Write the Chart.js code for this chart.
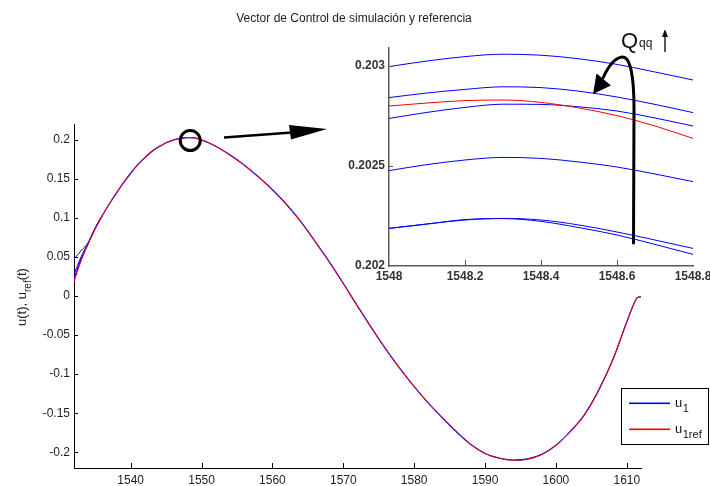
<!DOCTYPE html>
<html>
<head>
<meta charset="utf-8">
<script src="https://cdn.jsdelivr.net/npm/chart.js@4.4.0/dist/chart.umd.min.js"></script>
<style>
  html, body { margin: 0; padding: 0; background: #fff; overflow: hidden; }
  #wrap { position: relative; width: 710px; height: 486px; overflow: hidden; }
  #main { position: absolute; left: 0; top: 0; }
  #zoom { position: absolute; left: 330px; top: 30px; }
</style>
</head>
<body>
<div id="wrap">
  <canvas id="main" width="710" height="486"></canvas>
  <canvas id="zoom" width="400" height="260"></canvas>
</div>
<script>
// main plot: time and control signals
const tMain = [1532, 1533, 1534, 1535, 1536, 1537, 1538, 1539, 1540, 1541, 1542, 1543, 1544, 1545, 1546, 1547, 1548, 1549, 1550, 1551, 1552, 1554, 1556, 1558, 1560, 1562, 1564, 1566, 1568, 1570, 1572, 1574, 1576, 1578, 1580, 1582, 1584, 1586, 1588, 1590, 1592, 1594, 1596, 1598, 1600, 1602, 1604, 1606, 1608, 1609, 1610, 1611, 1611.5, 1612];
const uRef = [0.018, 0.045, 0.067, 0.087, 0.103, 0.118, 0.132, 0.145, 0.157, 0.168, 0.177, 0.185, 0.191, 0.196, 0.1995, 0.2015, 0.2027, 0.2022, 0.1995, 0.196, 0.1915, 0.1805, 0.1675, 0.1525, 0.136, 0.117, 0.095, 0.070, 0.044, 0.016, -0.013, -0.041, -0.068, -0.093, -0.116, -0.137, -0.156, -0.174, -0.190, -0.2015, -0.2075, -0.210, -0.2085, -0.2025, -0.191, -0.1735, -0.152, -0.121, -0.082, -0.058, -0.033, -0.010, -0.002, -0.001];
const u1 = [0.022, 0.047, 0.067, 0.087, 0.103, 0.118, 0.132, 0.145, 0.157, 0.168, 0.177, 0.185, 0.191, 0.196, 0.1995, 0.2015, 0.2027, 0.2022, 0.1995, 0.196, 0.1915, 0.1805, 0.1675, 0.1525, 0.136, 0.117, 0.095, 0.070, 0.044, 0.016, -0.013, -0.041, -0.068, -0.093, -0.116, -0.137, -0.156, -0.174, -0.190, -0.2015, -0.2075, -0.210, -0.2085, -0.2025, -0.191, -0.1735, -0.152, -0.121, -0.082, -0.058, -0.033, -0.010, -0.002, -0.001];
// other u1 runs that split apart at the start
const tStart = [1532, 1533, 1534, 1535, 1536];
const u1StartA = [0.047, 0.058, 0.068, 0.086, 0.103];
const u1StartB = [0.028, 0.050, 0.068, 0.087, 0.103];
const xTicksMain = [1540, 1550, 1560, 1570, 1580, 1590, 1600, 1610];
const yTicksMain = [-0.2, -0.15, -0.1, -0.05, 0, 0.05, 0.1, 0.15, 0.2];

// zoomed inset around the peak
const tZoom = [1548, 1548.1, 1548.2, 1548.3, 1548.4, 1548.5, 1548.6, 1548.7, 1548.8];
const uRefZoom = [0.202800, 0.202815, 0.202827, 0.202830, 0.202818, 0.202790, 0.202752, 0.202700, 0.202638];
const uZoom1 = [0.202997, 0.203025, 0.203047, 0.203059, 0.203054, 0.203036, 0.203008, 0.202970, 0.202930];
const uZoom2 = [0.202842, 0.202865, 0.202883, 0.202896, 0.202892, 0.202874, 0.202845, 0.202808, 0.202767];
const uZoom3 = [0.202738, 0.202768, 0.202793, 0.202809, 0.202808, 0.202796, 0.202775, 0.202740, 0.202700];
const uZoom4 = [0.202477, 0.202507, 0.202530, 0.202543, 0.202538, 0.202520, 0.202495, 0.202460, 0.202422];
const uZoom5 = [0.202188, 0.202210, 0.202230, 0.202238, 0.202230, 0.202205, 0.202170, 0.202130, 0.202088];
const uZoom6 = [0.202188, 0.202210, 0.202232, 0.202237, 0.202223, 0.202192, 0.202155, 0.202108, 0.202058];
const xTicksZoom = [1548, 1548.2, 1548.4, 1548.6, 1548.8];
const yTicksZoom = [0.202, 0.2025, 0.203];

const FONT = "'Liberation Sans', Arial, Helvetica, sans-serif";
const BLUE = '#0000ff';
const RED = '#ff0000';

function pts(xs, ys) {
  return xs.map((x, i) => ({ x: x, y: ys[i] }));
}

function line(data, color, width) {
  return {
    data: data,
    borderColor: color,
    borderWidth: width,
    pointRadius: 0,
    fill: false,
    cubicInterpolationMode: 'monotone'
  };
}

// matlab style ticks pointing into the plot
const inwardTicks = {
  id: 'inwardTicks',
  afterDatasetsDraw(chart, args, opts) {
    const { ctx, chartArea: a, scales: { x, y } } = chart;
    ctx.save();
    ctx.strokeStyle = opts.color;
    ctx.lineWidth = 1;
    ctx.beginPath();
    x.ticks.forEach(t => {
      const px = Math.round(x.getPixelForValue(t.value)) + 0.5;
      if (px <= a.left + 1 || px >= a.right - 1) return;
      ctx.moveTo(px, a.bottom);
      ctx.lineTo(px, a.bottom - opts.lenX);
    });
    y.ticks.forEach(t => {
      const py = Math.round(y.getPixelForValue(t.value)) + 0.5;
      if (py <= a.top + 1 || py >= a.bottom - 1) return;
      ctx.moveTo(a.left, py);
      ctx.lineTo(a.left + opts.lenY, py);
    });
    ctx.stroke();
    ctx.restore();
  }
};

const mainDecor = {
  id: 'mainDecor',
  afterDraw(chart) {
    const { ctx, scales: { x, y } } = chart;
    ctx.save();

    // title
    ctx.fillStyle = '#222';
    ctx.font = '12px ' + FONT;
    ctx.textAlign = 'center';
    ctx.textBaseline = 'alphabetic';
    ctx.fillText('Vector de Control de simulación y referencia', 354, 22);

    // y label u(t), u_ref(t)
    ctx.translate(22, 297);
    ctx.rotate(-Math.PI / 2);
    ctx.textAlign = 'left';
    const big = '13px ' + FONT, small = '10px ' + FONT;
    ctx.font = big;
    const w1 = ctx.measureText('u(t), u').width;
    const w3 = ctx.measureText('(t)').width;
    ctx.font = small;
    const w2 = ctx.measureText('ref').width;
    let x0 = -(w1 + w2 + w3) / 2;
    ctx.font = big;
    ctx.fillText('u(t), u', x0, 4);
    ctx.font = small;
    ctx.fillText('ref', x0 + w1, 9);
    ctx.font = big;
    ctx.fillText('(t)', x0 + w1 + w2, 4);
    ctx.setTransform(1, 0, 0, 1, 0, 0);

    // circle around the peak
    ctx.strokeStyle = '#000';
    ctx.lineWidth = 3;
    ctx.beginPath();
    ctx.arc(x.getPixelForValue(1548.4), y.getPixelForValue(0.1988), 10, 0, Math.PI * 2);
    ctx.stroke();

    // arrow to the inset
    ctx.lineWidth = 2.5;
    ctx.beginPath();
    ctx.moveTo(224, 137.5);
    ctx.lineTo(292, 132.5);
    ctx.stroke();
    ctx.fillStyle = '#000';
    ctx.beginPath();
    ctx.moveTo(327, 129);
    ctx.lineTo(289, 125);
    ctx.lineTo(291, 139.5);
    ctx.closePath();
    ctx.fill();

    // legend
    ctx.fillStyle = '#fff';
    ctx.fillRect(621.5, 388.5, 87, 56);
    ctx.strokeStyle = '#000';
    ctx.lineWidth = 1;
    ctx.strokeRect(621.5, 388.5, 87, 56);
    const items = [{ c: BLUE, sub: '1', y: 403 }, { c: RED, sub: '1ref', y: 429 }];
    items.forEach(it => {
      ctx.fillStyle = it.c;
      ctx.fillRect(629, it.y - 0.5, 41, 1.6);
      ctx.fillStyle = '#111';
      ctx.font = '13px ' + FONT;
      ctx.fillText('u', 675, it.y + 4);
      const wu = ctx.measureText('u').width;
      ctx.font = '11px ' + FONT;
      ctx.fillText(it.sub, 675 + wu + 0.5, it.y + 9);
    });

    ctx.restore();
  }
};

const zoomDecor = {
  id: 'zoomDecor',
  afterDraw(chart) {
    const ctx = chart.ctx;
    ctx.save();
    // curved arrow: Qqq grows
    ctx.strokeStyle = '#000';
    ctx.lineWidth = 3;
    ctx.lineCap = 'round';
    ctx.beginPath();
    ctx.moveTo(303.5, 213);
    ctx.lineTo(304, 80);
    ctx.bezierCurveTo(304, 40, 299, 26, 292, 27);
    ctx.bezierCurveTo(284, 28, 278, 37, 273, 48);
    ctx.stroke();
    ctx.fillStyle = '#000';
    ctx.beginPath();
    ctx.moveTo(263, 64);
    ctx.lineTo(266.5, 43.5);
    ctx.lineTo(281, 55.5);
    ctx.closePath();
    ctx.fill();

    // Qqq label with small arrow
    ctx.fillStyle = '#111';
    ctx.textAlign = 'left';
    ctx.textBaseline = 'alphabetic';
    ctx.font = '22px ' + FONT;
    ctx.fillText('Q', 291, 18);
    const wq = ctx.measureText('Q').width;
    ctx.font = '12px ' + FONT;
    ctx.fillText('qq', 291 + wq + 1, 17);
    ctx.lineWidth = 1.3;
    ctx.lineCap = 'butt';
    ctx.beginPath();
    ctx.moveTo(335, 22);
    ctx.lineTo(335, 5);
    ctx.stroke();
    ctx.beginPath();
    ctx.moveTo(335, -1);
    ctx.lineTo(332, 7);
    ctx.lineTo(338, 7);
    ctx.closePath();
    ctx.fill();
    ctx.restore();
  }
};

function axisOpts(cfg) {
  return {
    type: 'linear',
    min: cfg.min,
    max: cfg.max,
    afterBuildTicks: s => { s.ticks = cfg.ticks.map(v => ({ value: v })); },
    afterFit: cfg.fit,
    grid: { display: false, drawTicks: false },
    border: { display: true, color: cfg.axisColor, width: cfg.axisWidth },
    ticks: {
      autoSkip: false,
      maxRotation: 0,
      padding: cfg.pad,
      color: cfg.labelColor,
      font: { family: FONT, size: 12, weight: cfg.weight },
      callback: v => String(v)
    }
  };
}

new Chart(document.getElementById('main'), {
  type: 'line',
  data: {
    datasets: [
      line(pts(tMain, uRef), RED, 1),
      line(pts(tMain, u1), BLUE, 1.3),
      line(pts(tStart, u1StartA), BLUE, 1),
      line(pts(tStart, u1StartB), BLUE, 1)
    ]
  },
  options: {
    responsive: false,
    animation: false,
    devicePixelRatio: 1,
    layout: { padding: { top: 124, right: 69, left: 0, bottom: 0 } },
    plugins: {
      legend: { display: false },
      tooltip: { enabled: false },
      inwardTicks: { color: '#000', lenX: 5, lenY: 4 }
    },
    scales: {
      x: axisOpts({ min: 1532, max: 1612, ticks: xTicksMain, fit: s => { s.height = 18; }, axisColor: '#000', axisWidth: 1, pad: 5, labelColor: '#1e1e1e', weight: 'normal' }),
      y: axisOpts({ min: -0.22, max: 0.22, ticks: yTicksMain, fit: s => { s.width = 74; }, axisColor: '#000', axisWidth: 1, pad: 4, labelColor: '#1e1e1e', weight: 'normal' })
    }
  },
  plugins: [inwardTicks, mainDecor]
});

new Chart(document.getElementById('zoom'), {
  type: 'line',
  data: {
    datasets: [
      line(pts(tZoom, uRefZoom), RED, 1),
      line(pts(tZoom, uZoom1), BLUE, 1),
      line(pts(tZoom, uZoom2), BLUE, 1),
      line(pts(tZoom, uZoom3), BLUE, 1),
      line(pts(tZoom, uZoom4), BLUE, 1),
      line(pts(tZoom, uZoom5), BLUE, 1),
      line(pts(tZoom, uZoom6), BLUE, 1)
    ]
  },
  options: {
    responsive: false,
    animation: false,
    devicePixelRatio: 1,
    layout: { padding: { top: 18, right: 37, left: 0, bottom: 0 } },
    plugins: {
      legend: { display: false },
      tooltip: { enabled: false },
      inwardTicks: { color: '#555', lenX: 6, lenY: 4 }
    },
    scales: {
      x: axisOpts({ min: 1548, max: 1548.8, ticks: xTicksZoom, fit: s => { s.height = 24; }, axisColor: '#5a5a5a', axisWidth: 1.5, pad: 3, labelColor: '#333', weight: 'bold' }),
      y: axisOpts({ min: 0.202, max: 0.20309, ticks: yTicksZoom, fit: s => { s.width = 59; }, axisColor: '#5a5a5a', axisWidth: 1.5, pad: 4, labelColor: '#333', weight: 'bold' })
    }
  },
  plugins: [inwardTicks, zoomDecor]
});
</script>
</body>
</html>
